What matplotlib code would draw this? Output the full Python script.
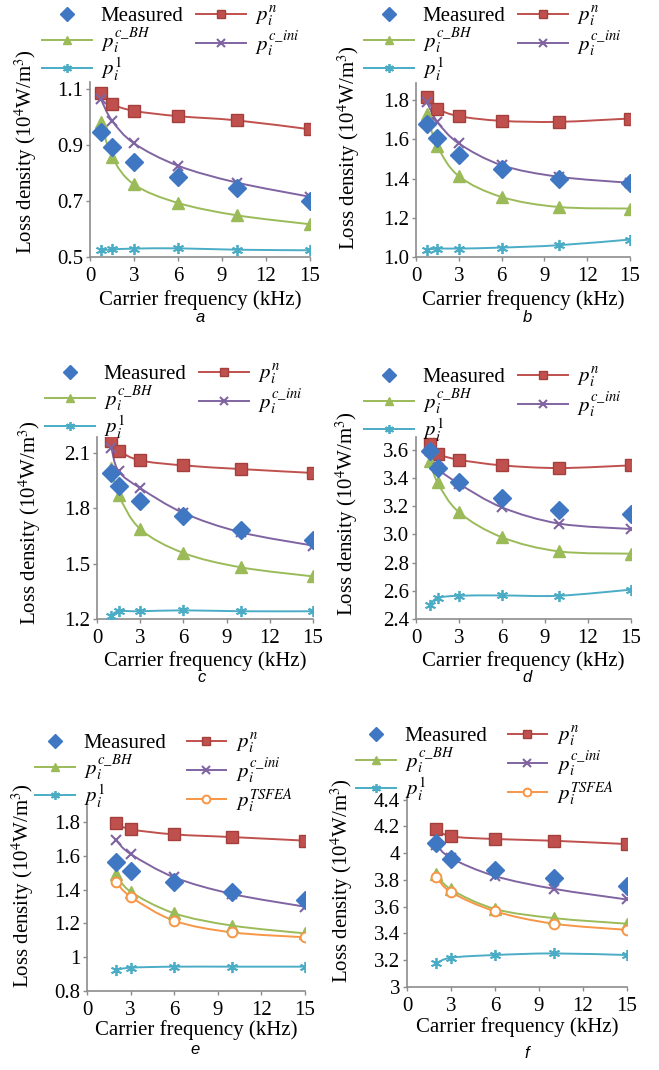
"""
载波频率 - 损耗密度 六子图复现
"""

import numpy as np
import matplotlib
matplotlib.use("Agg")  # 无GUI后端
import matplotlib.pyplot as plt
from matplotlib.path import Path
from matplotlib.patches import PathPatch
from matplotlib.lines import Line2D

plt.rcParams["font.family"] = "serif"
plt.rcParams["font.serif"] = ["Liberation Serif", "DejaVu Serif"]
plt.rcParams["mathtext.fontset"] = "stix"

# ── 数据 ──
freq_a = [0.75, 1.5, 3, 6, 10, 15]
measured_a = [0.947, 0.894, 0.840, 0.784, 0.747, 0.699]
pn_a = [1.087, 1.047, 1.022, 1.003, 0.988, 0.956]
cbh_a = [0.983, 0.858, 0.759, 0.693, 0.649, 0.617]
cini_a = [1.063, 0.987, 0.906, 0.826, 0.766, 0.715]
p1_a = [0.524, 0.527, 0.530, 0.531, 0.526, 0.524]

freq_b = [0.75, 1.5, 3, 6, 10, 15]
measured_b = [1.677, 1.608, 1.519, 1.451, 1.400, 1.378]
pn_b = [1.817, 1.757, 1.718, 1.694, 1.689, 1.706]
cbh_b = [1.727, 1.566, 1.412, 1.306, 1.255, 1.247]
cini_b = [1.791, 1.689, 1.579, 1.468, 1.409, 1.378]
p1_b = [1.037, 1.043, 1.043, 1.048, 1.060, 1.089]

freq_c = [1, 1.5, 3, 6, 10, 15]
measured_c = [1.992, 1.919, 1.842, 1.757, 1.685, 1.630]
pn_c = [2.163, 2.113, 2.060, 2.033, 2.013, 1.992]
cbh_c = [2.019, 1.874, 1.688, 1.558, 1.480, 1.431]
cini_c = [2.127, 2.001, 1.910, 1.775, 1.670, 1.598]
p1_c = [1.218, 1.242, 1.242, 1.247, 1.242, 1.242]

freq_d = [1, 1.5, 3, 6, 10, 15]
measured_d = [3.593, 3.470, 3.368, 3.257, 3.175, 3.146]
pn_d = [3.643, 3.572, 3.529, 3.489, 3.470, 3.489]
cbh_d = [3.517, 3.368, 3.156, 2.979, 2.879, 2.863]
cini_d = [3.588, 3.470, 3.359, 3.191, 3.076, 3.038]
p1_d = [2.502, 2.549, 2.565, 2.567, 2.565, 2.608]

freq_e = [2, 3, 6, 10, 15]
measured_e = [1.565, 1.512, 1.447, 1.384, 1.338]
pn_e = [1.792, 1.757, 1.727, 1.711, 1.690]
cbh_e = [1.492, 1.388, 1.260, 1.187, 1.141]
cini_e = [1.693, 1.611, 1.473, 1.374, 1.299]
p1_e = [0.924, 0.938, 0.944, 0.944, 0.944]
tsfea_e = [1.447, 1.358, 1.216, 1.147, 1.118]

freq_f = [2, 3, 6, 10, 15]
measured_f = [4.076, 3.955, 3.875, 3.817, 3.754]
pn_f = [4.181, 4.126, 4.106, 4.093, 4.068]
cbh_f = [3.847, 3.729, 3.583, 3.515, 3.473]
cini_f = [4.063, 3.963, 3.829, 3.734, 3.654]
p1_f = [3.176, 3.219, 3.239, 3.251, 3.239]
tsfea_f = [3.824, 3.709, 3.566, 3.473, 3.427]

yticks_a = [0.5, 0.7, 0.9, 1.1]
yticks_b = [1.0, 1.2, 1.4, 1.6, 1.8]
yticks_c = [1.2, 1.5, 1.8, 2.1]
yticks_d = [2.4, 2.6, 2.8, 3.0, 3.2, 3.4, 3.6]
yticks_e = [0.8, 1.0, 1.2, 1.4, 1.6, 1.8]
yticks_f = [3.0, 3.2, 3.4, 3.6, 3.8, 4.0, 4.2, 4.4]
xticks = [0, 3, 6, 9, 12, 15]

# ── 样式 ──
C_MEAS = "#3F77C3"
C_PN = "#C0504D"
C_BH = "#9BBB59"
C_INI = "#8064A2"
C_P1 = "#4BACC6"
C_TS = "#F79646"
AXIS_GRAY = "#8C8C8C"
FS = 15

W, H = 659, 1070
# 轴框 (左, 右, 上, 下) 单位 px; leg = 图例左上角 px, 句柄长, 列距; ylab = y标签中心 (px, 轴坐标); xlab = x标签中心 y px
panels = [
    dict(tag="a", x=freq_a, meas=measured_a, pn=pn_a, bh=cbh_a, ini=cini_a, p1=p1_a, ts=None,
         ylim=(0.5, 1.125), yt=yticks_a, fmt="{:.1f}", box=(90, 310, 82, 257),
         leg=(42, 5, 2.4, 0.6), ylab=(26, 0.6), xlab=300, tag_xy=(200, 318)),
    dict(tag="b", x=freq_b, meas=measured_b, pn=pn_b, bh=cbh_b, ini=cini_b, p1=p1_b, ts=None,
         ylim=(1.0, 1.887), yt=yticks_b, fmt="{:.1f}", box=(416, 630, 83, 257),
         leg=(364, 5, 2.4, 0.6), ylab=(349, 0.63), xlab=300, tag_xy=(527, 318)),
    dict(tag="c", x=freq_c, meas=measured_c, pn=pn_c, bh=cbh_c, ini=cini_c, p1=p1_c, ts=None,
         ylim=(1.2, 2.187), yt=yticks_c, fmt="{:.1f}", box=(97, 313, 437, 619),
         leg=(45, 363, 2.4, 0.6), ylab=(30, 0.53), xlab=661, tag_xy=(202, 677)),
    dict(tag="d", x=freq_d, meas=measured_d, pn=pn_d, bh=cbh_d, ini=cini_d, p1=p1_d, ts=None,
         ylim=(2.4, 3.69), yt=yticks_d, fmt="{:.1f}", box=(416, 631, 437, 619),
         leg=(364, 366, 2.4, 0.6), ylab=(347, 0.58), xlab=661, tag_xy=(527, 677)),
    dict(tag="e", x=freq_e, meas=measured_e, pn=pn_e, bh=cbh_e, ini=cini_e, p1=p1_e, ts=tsfea_e,
         ylim=(0.8, 1.895), yt=yticks_e, fmt="{:g}", box=(87, 305, 806, 991),
         leg=(35, 732, 1.9, 1.0), ylab=(23, 0.57), xlab=1030, tag_xy=(195, 1050)),
    dict(tag="f", x=freq_f, meas=measured_f, pn=pn_f, bh=cbh_f, ini=cini_f, p1=p1_f, ts=tsfea_f,
         ylim=(3.0, 4.42), yt=yticks_f, fmt="{:g}", box=(407, 627, 797, 987),
         leg=(356, 725, 1.9, 1.0), ylab=(342, 0.56), xlab=1027, tag_xy=(527, 1053)),
]


def smooth_path(x, y):
    """Excel 风格平滑线: Catmull-Rom 转三次贝塞尔"""
    pts = np.column_stack([x, y]).astype(float)
    n = len(pts)
    verts, codes = [pts[0]], [Path.MOVETO]
    for i in range(n - 1):
        p0 = pts[i - 1] if i > 0 else pts[i]
        p3 = pts[i + 2] if i + 2 < n else pts[i + 1]
        verts += [pts[i] + (pts[i + 1] - p0) / 6, pts[i + 1] - (p3 - pts[i]) / 6, pts[i + 1]]
        codes += [Path.CURVE4] * 3
    return Path(verts, codes)


def draw_series(ax, x, y, color, marker, **mk):
    ax.add_patch(PathPatch(smooth_path(x, y), facecolor="none", edgecolor=color,
                           lw=1.4, zorder=2))
    ax.plot(x, y, ls="none", marker=marker, color=color, zorder=3, **mk)
    return Line2D([], [], color=color, lw=1.4, marker=marker, **mk)


STYLE_PN = dict(ms=8, mfc=C_PN, mec="#A33F3C")
STYLE_BH = dict(ms=8)
STYLE_INI = dict(ms=7, mew=1.5)
STYLE_P1 = dict(ms=8, mew=1.3)
STYLE_TS = dict(ms=7, mfc="white", mew=1.4)

fig = plt.figure(figsize=(W / 100, H / 100), dpi=100)

for p in panels:
    l, r, t, b = p["box"]
    ax = fig.add_axes([l / W, 1 - b / H, (r - l) / W, (b - t) / H])

    h_pn = draw_series(ax, p["x"], p["pn"], C_PN, "s", **STYLE_PN)
    h_bh = draw_series(ax, p["x"], p["bh"], C_BH, "^", **STYLE_BH)
    h_ini = draw_series(ax, p["x"], p["ini"], C_INI, "x", **STYLE_INI)
    h_p1 = draw_series(ax, p["x"], p["p1"], C_P1, (6, 2, 0), **STYLE_P1)
    h_ts = None
    if p["ts"] is not None:
        h_ts = draw_series(ax, p["x"], p["ts"], C_TS, "o", **STYLE_TS)
    ax.plot(p["x"], p["meas"], ls="none", marker="D", ms=9, color=C_MEAS, zorder=4)
    h_meas = Line2D([], [], ls="none", marker="D", ms=9, color=C_MEAS)

    ax.set_xlim(0, 15)
    ax.set_ylim(*p["ylim"])
    ax.set_xticks(xticks)
    ax.set_yticks(p["yt"])
    ax.set_yticklabels([p["fmt"].format(v) for v in p["yt"]])
    for s in ("top", "right"):
        ax.spines[s].set_visible(False)
    for s in ("left", "bottom"):
        ax.spines[s].set_color(AXIS_GRAY)
        ax.spines[s].set_linewidth(1.2)
    ax.tick_params(direction="out", length=3, width=1, color=AXIS_GRAY,
                   labelsize=FS, pad=2)
    ax.tick_params(axis="x", pad=4)

    ax.set_xlabel("Carrier frequency (kHz)", fontsize=FS, va="center")
    ax.xaxis.set_label_coords(0.5, -(p["xlab"] - b) / (b - t))
    ax.set_ylabel("Loss density (10$^4$W/m$^3$)", fontsize=FS, va="center")
    ax.yaxis.set_label_coords(-(l - p["ylab"][0]) / (r - l), p["ylab"][1])

    # 图例: 按列填充 (Measured, BH, 1 | n, ini, TSFEA)
    handles = [h_meas, h_bh, h_p1, h_pn, h_ini]
    labels = ["Measured", r"$\,p_i^{c\_BH}$", r"$\,p_i^{1}$", r"$\,p_i^{n}$", r"$\,p_i^{c\_ini}$"]
    if h_ts is not None:
        handles.append(h_ts)
        labels.append(r"$\,p_i^{TSFEA}$")
    lx, ly, hl, cs = p["leg"]
    ax.legend(handles, labels, ncol=2, loc="upper left",
              bbox_to_anchor=(lx / W, 1 - ly / H), bbox_transform=fig.transFigure,
              frameon=False, fontsize=FS, borderpad=0, borderaxespad=0,
              handlelength=hl, handletextpad=0.4, columnspacing=cs,
              labelspacing=0.0, markerscale=0.8)

    fig.text(p["tag_xy"][0] / W, 1 - p["tag_xy"][1] / H, p["tag"], family="Liberation Sans",
             style="italic", fontsize=12, ha="center", va="center")

fig.savefig("out.png", dpi=100)
